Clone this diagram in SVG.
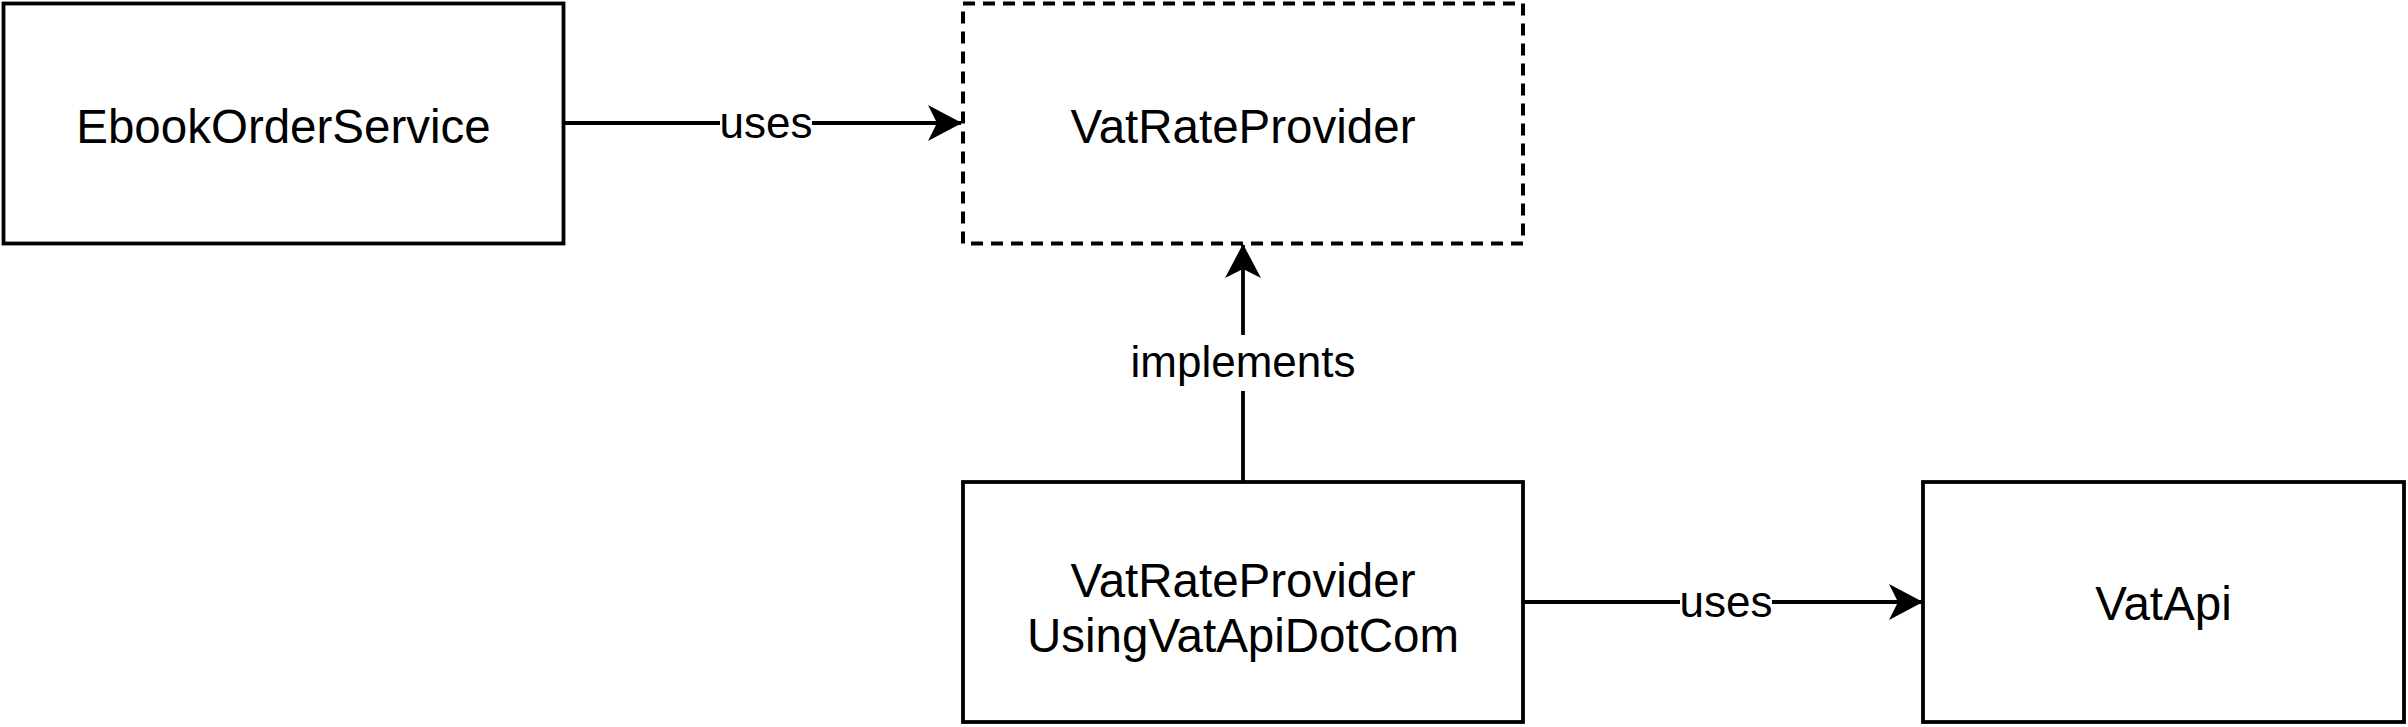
<svg xmlns="http://www.w3.org/2000/svg" width="2408" height="727" viewBox="0 0 2408 727">
<style>
.box{fill:#ffffff;stroke:#000000;stroke-width:3.8}
.dash{stroke-width:4;stroke-dasharray:12 8}
.lbl{font-family:"Liberation Sans",Arial,sans-serif;font-size:47.5px;fill:#000000;text-anchor:middle}
.elbl{font-family:"Liberation Sans",Arial,sans-serif;font-size:44px;fill:#000000;text-anchor:middle}
.edge{fill:none;stroke:#000000;stroke-width:3.8}
.bg{fill:#ffffff}
</style>
<defs>
<marker id="arrow" viewBox="0 0 34 36" refX="33" refY="18" markerWidth="34" markerHeight="36" markerUnits="userSpaceOnUse" orient="auto">
<path d="M0,0 L34,18 L0,36 L9,18 Z" fill="#000000"/>
</marker>
</defs>
<rect width="2408" height="727" fill="#ffffff"/>
<g id="connectors">
<g id="e1">
<line class="edge" x1="564" y1="123" x2="961" y2="123" marker-end="url(#arrow)"/>
<rect class="bg" x="720" y="100" width="92" height="44"/>
<text class="elbl" x="766" y="138">uses</text>
</g>
<g id="e2">
<line class="edge" x1="1243" y1="482" x2="1243" y2="245" marker-end="url(#arrow)"/>
<rect class="bg" x="1130" y="335" width="226" height="56"/>
<text class="elbl" x="1243" y="377">implements</text>
</g>
<g id="e3">
<line class="edge" x1="1523" y1="602" x2="1922" y2="602" marker-end="url(#arrow)"/>
<rect class="bg" x="1680" y="580" width="92" height="44"/>
<text class="elbl" x="1726" y="617">uses</text>
</g>
</g>
<g id="EbookOrderService">
<rect class="box" x="3.5" y="3.5" width="560" height="240"/>
<text class="lbl" x="283.5" y="143">EbookOrderService</text>
</g>
<g id="VatRateProvider">
<rect class="box dash" x="963" y="3.5" width="560" height="240"/>
<text class="lbl" x="1243" y="143">VatRateProvider</text>
</g>
<g id="VatRateProviderUsingVatApiDotCom">
<rect class="box" x="963" y="482" width="560" height="240"/>
<text class="lbl" x="1243" y="597">VatRateProvider</text>
<text class="lbl" x="1243" y="652">UsingVatApiDotCom</text>
</g>
<g id="VatApi">
<rect class="box" x="1923" y="482" width="481" height="240"/>
<text class="lbl" x="2163.5" y="620">VatApi</text>
</g>
</svg>
